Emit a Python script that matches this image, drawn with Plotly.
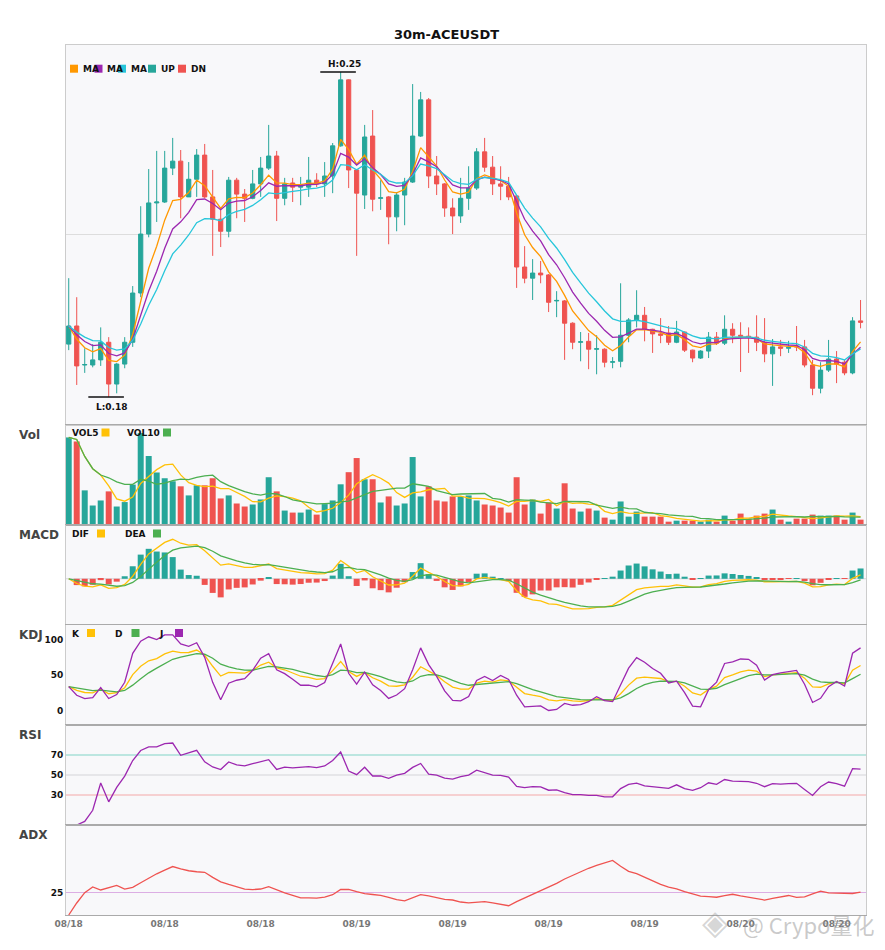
import numpy as np
import pandas as pd
import plotly.graph_objects as go
from plotly.subplots import make_subplots

title_text = "30m-ACEUSDT"

open_ = [0.1963, 0.2002, 0.1918, 0.1918, 0.1929, 0.1967, 0.1877, 0.1920, 0.1967, 0.2073,
         0.2200, 0.2267, 0.2269, 0.2342, 0.2357, 0.2280, 0.2318, 0.2370, 0.2280, 0.2232,
         0.2206, 0.2316, 0.2286, 0.2277, 0.2308, 0.2342, 0.2368, 0.2277, 0.2310, 0.2301,
         0.2301, 0.2316, 0.2308, 0.2325, 0.2390, 0.2532, 0.2338, 0.2284, 0.2411, 0.2277,
         0.2280, 0.2237, 0.2284, 0.2312, 0.2411, 0.2489, 0.2325, 0.2308, 0.2256, 0.2239,
         0.2277, 0.2299, 0.2377, 0.2344, 0.2308, 0.2303, 0.2282, 0.2129, 0.2105, 0.2116,
         0.2112, 0.2056, 0.2056, 0.2008, 0.1967, 0.1969, 0.1952, 0.1952, 0.1924, 0.1926,
         0.1982, 0.2015, 0.2025, 0.1995, 0.1985, 0.1987, 0.1967, 0.1989, 0.1950, 0.1933,
         0.1948, 0.1978, 0.1965, 0.1995, 0.1982, 0.1980, 0.1978, 0.1967, 0.1942, 0.1957,
         0.1954, 0.1959, 0.1957, 0.1918, 0.1868, 0.1907, 0.1931, 0.1924, 0.1901, 0.2013]
high = [0.2105, 0.2064, 0.1954, 0.1963, 0.1999, 0.1978, 0.1922, 0.1978, 0.2088, 0.2260,
        0.2340, 0.2379, 0.2379, 0.2407, 0.2381, 0.2355, 0.2383, 0.2394, 0.2338, 0.2258,
        0.2323, 0.2321, 0.2297, 0.2338, 0.2366, 0.2435, 0.2379, 0.2321, 0.2321, 0.2323,
        0.2366, 0.2331, 0.2355, 0.2396, 0.2549, 0.2533, 0.2340, 0.2435, 0.2467, 0.2316,
        0.2282, 0.2290, 0.2321, 0.2523, 0.2506, 0.2493, 0.2368, 0.2310, 0.2277, 0.2321,
        0.2346, 0.2385, 0.2407, 0.2368, 0.2346, 0.2323, 0.2284, 0.2174, 0.2146, 0.2142,
        0.2114, 0.2077, 0.2058, 0.2010, 0.1989, 0.1987, 0.1982, 0.1954, 0.1935, 0.2094,
        0.2019, 0.2079, 0.2043, 0.1996, 0.2019, 0.2002, 0.2013, 0.1990, 0.1951, 0.1950,
        0.1989, 0.1989, 0.2025, 0.2008, 0.2010, 0.1999, 0.2025, 0.2019, 0.1974, 0.1972,
        0.1970, 0.2002, 0.1972, 0.1929, 0.1924, 0.1972, 0.1948, 0.1929, 0.2021, 0.2058]
low = [0.1950, 0.1875, 0.1901, 0.1913, 0.1916, 0.1849, 0.1857, 0.1911, 0.1957, 0.2064,
       0.2193, 0.2226, 0.2267, 0.2327, 0.2234, 0.2280, 0.2280, 0.2277, 0.2153, 0.2172,
       0.2193, 0.2234, 0.2226, 0.2275, 0.2280, 0.2338, 0.2228, 0.2262, 0.2269, 0.2262,
       0.2280, 0.2301, 0.2280, 0.2288, 0.2388, 0.2299, 0.2153, 0.2254, 0.2249, 0.2252,
       0.2178, 0.2206, 0.2219, 0.2310, 0.2409, 0.2299, 0.2284, 0.2237, 0.2200, 0.2224,
       0.2252, 0.2295, 0.2334, 0.2284, 0.2273, 0.2273, 0.2084, 0.2094, 0.2058, 0.2094,
       0.2032, 0.2021, 0.1929, 0.1952, 0.1926, 0.1909, 0.1898, 0.1913, 0.1911, 0.1913,
       0.1967, 0.1999, 0.1969, 0.1944, 0.1965, 0.1961, 0.1965, 0.1946, 0.1924, 0.1931,
       0.1933, 0.1961, 0.1961, 0.1965, 0.1903, 0.1944, 0.1948, 0.1924, 0.1873, 0.1937,
       0.1944, 0.1948, 0.1913, 0.1853, 0.1857, 0.1903, 0.1879, 0.1896, 0.1898, 0.1997]
close = [0.2002, 0.1916, 0.1919, 0.1929, 0.1967, 0.1877, 0.1920, 0.1967, 0.2073, 0.2200,
         0.2267, 0.2269, 0.2342, 0.2357, 0.2280, 0.2318, 0.2370, 0.2280, 0.2232, 0.2206,
         0.2316, 0.2286, 0.2277, 0.2308, 0.2342, 0.2368, 0.2277, 0.2308, 0.2301, 0.2306,
         0.2316, 0.2308, 0.2325, 0.2390, 0.2532, 0.2338, 0.2288, 0.2409, 0.2275, 0.2278,
         0.2237, 0.2284, 0.2312, 0.2411, 0.2489, 0.2325, 0.2308, 0.2256, 0.2239, 0.2277,
         0.2299, 0.2377, 0.2344, 0.2308, 0.2303, 0.2280, 0.2129, 0.2105, 0.2116, 0.2112,
         0.2053, 0.2057, 0.2008, 0.1967, 0.1968, 0.1952, 0.1953, 0.1924, 0.1925, 0.1982,
         0.2015, 0.2025, 0.1995, 0.1985, 0.1982, 0.1967, 0.1989, 0.1950, 0.1933, 0.1948,
         0.1978, 0.1965, 0.1995, 0.1982, 0.1980, 0.1978, 0.1967, 0.1942, 0.1957, 0.1954,
         0.1956, 0.1957, 0.1918, 0.1868, 0.1907, 0.1931, 0.1920, 0.1901, 0.2013, 0.2010]
volume = [86.7, 82.7, 34.3, 19.3, 24.3, 33.3, 18.3, 22.7, 40.0, 91.0,
          68.3, 52.0, 46.3, 43.3, 38.3, 29.3, 39.3, 39.3, 46.3, 26.3,
          29.3, 21.3, 18.3, 20.3, 25.3, 47.3, 33.3, 14.3, 12.3, 12.3,
          15.3, 10.3, 20.7, 24.3, 40.3, 52.3, 66.3, 45.3, 45.3, 22.3,
          28.3, 19.3, 21.3, 67.3, 28.3, 38.3, 24.3, 23.3, 28.3, 28.3,
          29.3, 24.3, 20.3, 19.3, 17.3, 12.3, 47.3, 20.3, 25.3, 11.3,
          22.3, 16.3, 41.3, 16.3, 13.3, 16.3, 14.3, 7.3, 5.3, 23.3,
          8.3, 13.3, 8.3, 8.3, 8.3, 3.3, 4.3, 4.3, 4.3, 3.3,
          5.3, 3.3, 9.3, 4.3, 11.3, 6.3, 9.3, 11.3, 15.3, 5.3,
          3.3, 6.3, 6.3, 10.3, 9.3, 9.3, 9.3, 5.3, 12.3, 5.3]
tick_idx = [0, 12, 24, 36, 48, 60, 72, 84, 96]
tick_labels = ["08/18", "08/18", "08/18", "08/19", "08/19", "08/19", "08/19", "08/20", "08/20"]
ma_spans = [5, 8, 12]
macd_params = (6, 13, 5)

# ---------------- indicators derived from the read OHLCV ----------------
df = pd.DataFrame(dict(open=open_, high=high, low=low, close=close, volume=volume))
x = np.arange(len(df))
c = df["close"]
mas = [c.ewm(span=s, adjust=False).mean() for s in ma_spans]
vol5 = df["volume"].rolling(5, min_periods=1).mean()
vol10 = df["volume"].rolling(10, min_periods=1).mean()
fast, slow, sig = macd_params
dif = c.ewm(span=fast, adjust=False).mean() - c.ewm(span=slow, adjust=False).mean()
dea = dif.ewm(span=sig, adjust=False).mean()
hist = 2 * (dif - dea)
llv = df["low"].rolling(9, min_periods=1).min()
hhv = df["high"].rolling(9, min_periods=1).max()
rsv = ((c - llv) / (hhv - llv) * 100).fillna(50)
k_ = rsv.ewm(com=2, adjust=False).mean()
d_ = k_.ewm(com=2, adjust=False).mean()
j_ = 3 * k_ - 2 * d_
delta = c.diff().fillna(0)
ag = delta.clip(lower=0).ewm(alpha=1 / 14, adjust=False).mean()
al = (-delta.clip(upper=0)).ewm(alpha=1 / 14, adjust=False).mean()
rsi = (100 * ag / (ag + al)).fillna(0)
pc = c.shift(1)
tr = pd.concat([df["high"] - df["low"], (df["high"] - pc).abs(), (df["low"] - pc).abs()], axis=1).max(axis=1)
up = df["high"].diff().fillna(0)
dn = (-df["low"].diff()).fillna(0)
pdm = pd.Series(np.where((up > dn) & (up > 0), up, 0.0))
mdm = pd.Series(np.where((dn > up) & (dn > 0), dn, 0.0))
atr = tr.ewm(span=14, adjust=False).mean()
pdi = 100 * pdm.ewm(span=14, adjust=False).mean() / atr
mdi = 100 * mdm.ewm(span=14, adjust=False).mean() / atr
dx = (100 * (pdi - mdi).abs() / (pdi + mdi)).fillna(0)
adx = dx.ewm(span=14, adjust=False).mean()

UP = "#26a69a"
DN = "#ef5350"
bar_colors = [UP if cl >= op else DN for op, cl in zip(open_, close)]
hist_colors = [UP if v >= 0 else DN for v in hist]

fig = make_subplots(rows=6, cols=1, shared_xaxes=True, vertical_spacing=0,
                    row_heights=[380, 100, 100, 100, 100, 90])

fig.add_trace(go.Candlestick(x=x, open=df["open"], high=df["high"], low=df["low"], close=df["close"],
                             increasing=dict(line=dict(color=UP, width=1), fillcolor=UP),
                             decreasing=dict(line=dict(color=DN, width=1), fillcolor=DN),
                             whiskerwidth=0, showlegend=False, name="K"), row=1, col=1)
for s, col in zip(mas, ["#ff9800", "#9c27b0", "#26c6da"]):
    fig.add_trace(go.Scatter(x=x, y=s, mode="lines", line=dict(color=col, width=1.3),
                             showlegend=False), row=1, col=1)

fig.add_trace(go.Bar(x=x, y=df["volume"], marker=dict(color=bar_colors, line=dict(width=0)),
                     width=0.75, showlegend=False), row=2, col=1)
fig.add_trace(go.Scatter(x=x, y=vol5, mode="lines", line=dict(color="#ffc107", width=1.3), showlegend=False), row=2, col=1)
fig.add_trace(go.Scatter(x=x, y=vol10, mode="lines", line=dict(color="#4caf50", width=1.3), showlegend=False), row=2, col=1)

fig.add_trace(go.Bar(x=x, y=hist, marker=dict(color=hist_colors, line=dict(width=0)),
                     width=0.75, showlegend=False), row=3, col=1)
fig.add_trace(go.Scatter(x=x, y=dif, mode="lines", line=dict(color="#ffc107", width=1.3), showlegend=False), row=3, col=1)
fig.add_trace(go.Scatter(x=x, y=dea, mode="lines", line=dict(color="#4caf50", width=1.3), showlegend=False), row=3, col=1)

fig.add_trace(go.Scatter(x=x, y=k_, mode="lines", line=dict(color="#ffc107", width=1.3), showlegend=False), row=4, col=1)
fig.add_trace(go.Scatter(x=x, y=d_, mode="lines", line=dict(color="#4caf50", width=1.3), showlegend=False), row=4, col=1)
fig.add_trace(go.Scatter(x=x, y=j_, mode="lines", line=dict(color="#9c27b0", width=1.3), showlegend=False), row=4, col=1)

fig.add_trace(go.Scatter(x=x, y=rsi, mode="lines", line=dict(color="#9c27b0", width=1.3), showlegend=False), row=5, col=1)
fig.add_trace(go.Scatter(x=x, y=adx, mode="lines", line=dict(color="#ef5350", width=1.3), showlegend=False), row=6, col=1)

# reference lines
for row, yv, col in [(4, 100, "#80d4c6"), (4, 50, "#d4d4d8"), (4, 0, "#f4a8a8"),
                     (5, 70, "#80d4c6"), (5, 50, "#d4d4d8"), (5, 30, "#f4a8a8"),
                     (6, 25, "#dcaee4"), (3, 0, "#d4d4d8")]:
    fig.add_hline(y=yv, line=dict(color=col, width=1), row=row, col=1, layer="below")

# ---------------- axes ----------------
pmin, pmax = min(low), max(high)
span = pmax - pmin
mlo = min(dif.min(), dea.min(), hist.min())
mhi = max(dif.max(), dea.max(), hist.max())
mspan = mhi - mlo
vmax = max(volume)
yranges = [[pmin - 0.086 * span, pmax + 0.083 * span], [0, vmax * 1.088],
           [mlo - 0.23 * mspan, mhi + 0.205 * mspan], [-20.5, 120.2], [0, 100], [0, 100]]
ytickvals = [[0.22], [], [], [0, 50, 100], [30, 50, 70], [25]]
tickfont = dict(family="DejaVu Sans", size=9, color="#111111", weight="bold")
for i in range(6):
    fig.update_yaxes(row=i + 1, col=1, range=yranges[i], tickvals=ytickvals[i],
                     showticklabels=(i >= 3), ticks="", tickfont=tickfont,
                     showgrid=(i == 0), gridcolor="#dddddd", zeroline=False,
                     showline=True, mirror=True, linecolor="#cccccc", linewidth=1)
    fig.update_xaxes(row=i + 1, col=1, range=[-0.34, 99.68], tickvals=tick_idx, ticktext=tick_labels,
                     showticklabels=(i == 5), ticks="", showgrid=False, zeroline=False,
                     showline=True, mirror=True, linewidth=1,
                     linecolor="#cccccc" if i == 0 else "#aaaaaa",
                     rangeslider=dict(visible=False),
                     tickfont=dict(family="DejaVu Sans", size=9, color="#777777", weight="bold"))

# ---------------- pixel helpers for layout decorations (page pixels) ----------------
L0, T0, W0, H0 = 66.0, 45.0, 800.0, 870.0
def px(v):
    return (v - L0) / W0
def py(v):
    return (T0 + H0 - v) / H0

ann = []
shapes = []
def label(xp, yp, txt, size=9, color="#111111", anchor="left"):
    ann.append(dict(x=px(xp), y=py(yp), xref="paper", yref="paper", text="<b>%s</b>" % txt,
                    showarrow=False, xanchor=anchor, yanchor="middle",
                    font=dict(family="DejaVu Sans", size=size, color=color)))
def square(x0, y0, col, s=8):
    shapes.append(dict(type="rect", xref="paper", yref="paper", x0=px(x0), x1=px(x0 + s),
                       y0=py(y0 + s / 2), y1=py(y0 - s / 2), fillcolor=col, line=dict(width=0)))

# main legend (square before text)
for sx, col, txt in [(70, "#ff9800", "MA"), (94.5, "#9c27b0", "MA"), (118, "#26c6da", "MA"),
                     (148, UP, "UP"), (178, DN, "DN")]:
    square(sx, 68.7, col)
    label(sx + 10.5, 69, txt)
# sub-panel legends (text before square)
for tx, txt, sx, col, yy in [(70, "VOL5", 101.5, "#ffc107", 432.5), (125, "VOL10", 163, "#4caf50", 432.5),
                             (70, "DIF", 97, "#ffc107", 533.5), (123, "DEA", 153, "#4caf50", 533.5),
                             (70, "K", 87, "#ffc107", 633), (113, "D", 131.5, "#4caf50", 633),
                             (157, "J", 175, "#9c27b0", 633)]:
    label(tx, yy + 0.5, txt)
    square(sx, yy, col)
# panel names
for yy, txt in [(435, "Vol"), (534.5, "MACD"), (635, "KDJ"), (735, "RSI"), (835, "ADX")]:
    label(17, yy, txt, size=12, color="#444444")

# high / low markers
ih = int(np.argmax(high)); il = int(np.argmin(low))
fig.add_shape(type="line", x0=ih - 2.55, x1=ih + 1.9, y0=pmax, y1=pmax, line=dict(color="#111111", width=1.5), row=1, col=1)
fig.add_shape(type="line", x0=il - 2.55, x1=il + 1.9, y0=pmin, y1=pmin, line=dict(color="#111111", width=1.5), row=1, col=1)
fig.add_annotation(x=ih + 0.45, y=pmax, text="<b>H:%.2f</b>" % pmax, showarrow=False, yanchor="bottom", yshift=1,
                   font=dict(family="DejaVu Sans", size=9, color="#111111"), row=1, col=1)
fig.add_annotation(x=il + 0.45, y=pmin, text="<b>L:%.2f</b>" % pmin, showarrow=False, yanchor="top", yshift=-3,
                   font=dict(family="DejaVu Sans", size=9, color="#111111"), row=1, col=1)

# watermark
ann.append(dict(x=px(715), y=py(922), xref="paper", yref="paper", text="◈", showarrow=False,
                xanchor="center", yanchor="middle",
                font=dict(family="DejaVu Sans", size=34, color="rgba(150,150,150,0.4)")))
ann.append(dict(x=px(741), y=py(924), xref="paper", yref="paper", text="@ Crypo量化", showarrow=False,
                xanchor="left", yanchor="middle",
                font=dict(family="Noto Sans CJK SC", size=22, color="rgba(150,150,150,0.5)")))

for a in ann:
    fig.add_annotation(**a)
for s in shapes:
    fig.add_shape(**s)

# the page body adds an 8px offset, so the figure is sized to land the plot at the reference pixels
fig.update_layout(
    width=877, height=942,
    margin=dict(l=58, r=19, t=37, b=35),
    paper_bgcolor="white", plot_bgcolor="#f8f8fa",
    boxgap=0.25, bargap=0.25,
    font=dict(family="DejaVu Sans"),
    title=dict(text="<b>%s</b>" % title_text, x=0.5, xanchor="center", y=1 - 26 / 942, yanchor="middle",
               font=dict(family="DejaVu Sans", size=13, color="#111111")),
    showlegend=False,
)
fig.write_html("out.html")
